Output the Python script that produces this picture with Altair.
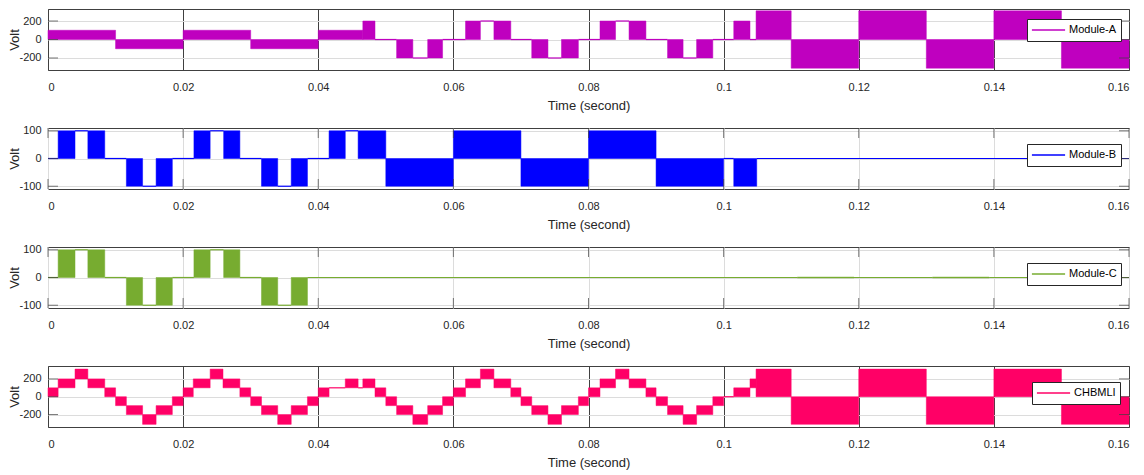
import altair as alt
import pandas as pd

# ---------------- data ----------------
X_TICKS = [0, 0.02, 0.04, 0.06, 0.08, 0.1, 0.12, 0.14, 0.16]

# Module-A: segment edges (s) and low/high envelope of the switched voltage in each segment
A_edges = [0, 0.01, 0.02, 0.03, 0.04, 0.0466, 0.0484, 0.0516, 0.054, 0.0562,
           0.0584, 0.0618, 0.064, 0.066, 0.0685, 0.0716, 0.074, 0.076, 0.0785, 0.0817,
           0.084, 0.086, 0.0885, 0.0917, 0.094, 0.096, 0.0984, 0.1015, 0.1039, 0.1048,
           0.11, 0.12, 0.13, 0.14, 0.15, 0.16]
A_lo = [0, -100, 0, -100, 0, 0, 0, -200, -200, -200,
        0, 0, 200, 0, 0, -200, -200, -200, 0, 0,
        200, 0, 0, -200, -200, -200, 0, 0, 0, 0,
        -310, 0, -310, 0, -310]
A_hi = [100, 0, 100, 0, 100, 200, 0, 0, -200, 0,
        0, 200, 200, 200, 0, 0, -200, 0, 0, 200,
        200, 200, 0, 0, -200, 0, 0, 200, 0, 310,
        0, 310, 0, 310, 0]

# Module-B
B_edges = [0, 0.0015, 0.004, 0.0059, 0.0084, 0.0116, 0.014, 0.016, 0.0184, 0.0216,
           0.024, 0.026, 0.0284, 0.0316, 0.034, 0.036, 0.0384, 0.0416, 0.044, 0.0459,
           0.05, 0.06, 0.07, 0.08, 0.09, 0.1, 0.1015, 0.1049, 0.16]
B_lo = [0, 0, 100, 0, 0, -100, -100, -100, 0, 0,
        100, 0, 0, -100, -100, -100, 0, 0, 100, 0,
        -100, 0, -100, 0, -100, 0, -100, 0]
B_hi = [0, 100, 100, 100, 0, 0, -100, 0, 0, 100,
        100, 100, 0, 0, -100, 0, 0, 100, 100, 100,
        0, 100, 0, 100, 0, 0, 0, 0]

# Module-C
C_edges = [0, 0.0015, 0.004, 0.0059, 0.0084, 0.0116, 0.014, 0.016, 0.0184, 0.0216,
           0.024, 0.026, 0.0284, 0.0316, 0.034, 0.036, 0.0384, 0.1109, 0.1193, 0.1309,
           0.1393, 0.16]
C_lo = [0, 0, 100, 0, 0, -100, -100, -100, 0, 0,
        100, 0, 0, -100, -100, -100, 0, -1.5, 0, -1.5, 0]
C_hi = [0, 100, 100, 100, 0, 0, -100, 0, 0, 100,
        100, 100, 0, 0, -100, 0, 0, 1.5, 0, 1.5, 0]

# CHBMLI output
D_edges = [0, 0.0015, 0.004, 0.0059, 0.0084, 0.01, 0.0116, 0.014, 0.016, 0.0184,
           0.02, 0.0215, 0.024, 0.0259, 0.0284, 0.03, 0.0316, 0.034, 0.036, 0.0384,
           0.04, 0.0416, 0.044, 0.0459, 0.0466, 0.0484, 0.05, 0.0516, 0.054, 0.0562,
           0.0584, 0.06, 0.0618, 0.064, 0.066, 0.0685, 0.07, 0.0716, 0.074, 0.076,
           0.0785, 0.08, 0.0817, 0.084, 0.086, 0.0885, 0.09, 0.0917, 0.094, 0.096,
           0.0984, 0.1, 0.1015, 0.1039, 0.1048, 0.11, 0.12, 0.13, 0.14, 0.15, 0.16]
D_lo = [0, 100, 200, 100, 0, -100, -200, -310, -200, -100,
        0, 100, 200, 100, 0, -100, -200, -310, -200, -100,
        0, 100, 100, 100, 100, 0, -100, -200, -310, -200, -100,
        0, 100, 200, 100, 0, -100, -200, -310, -200, -100,
        0, 100, 200, 100, 0, -100, -200, -310, -200, -100,
        0, 0, 100, 0, -310, 0, -310, 0, -310]
D_hi = [100, 200, 310, 200, 100, 0, -100, -200, -100, 0,
        100, 200, 310, 200, 100, 0, -100, -200, -100, 0,
        100, 100, 200, 100, 200, 100, 0, -100, -200, -100, 0,
        100, 200, 310, 200, 100, 0, -100, -200, -100, 0,
        100, 200, 310, 200, 100, 0, -100, -200, -100, 0,
        0, 100, 200, 310, 0, 310, 0, 310, 0]

# ---------------- styling ----------------
W, H = 1081, 61
FONT = "Liberation Sans"
DARK = "#404040"


def seg_frame(name, edges, lo, hi):
    rows = []
    for i in range(len(lo)):
        rows.append({"t0": edges[i], "t1": edges[i + 1], "lo": lo[i], "hi": hi[i], "series": name})
    return pd.DataFrame(rows)


def panel(name, edges, lo, hi, color, ydom, yticks, dark_xgrid, lx, ly):
    df = seg_frame(name, edges, lo, hi)
    xscale = alt.Scale(domain=[0, 0.16], nice=False, zero=False)
    yscale = alt.Scale(domain=ydom, nice=False, zero=False)
    xaxis = alt.Axis(values=X_TICKS, labelExpr="toString(datum.value)",
                     title="Time (second)", grid=True,
                     gridColor=DARK if dark_xgrid else "#dcdcdc",
                     labelPadding=11, titlePadding=7)
    yaxis = alt.Axis(values=yticks, labelExpr="toString(datum.value)",
                     title="Volt", grid=True, gridColor="#dcdcdc",
                     labelPadding=7, titlePadding=-3)
    base = alt.Chart(df)
    rects = base.transform_filter("datum.lo != datum.hi").mark_rect(
        color=color, stroke=color, strokeWidth=0.5
    ).encode(
        x=alt.X("t0:Q", scale=xscale, axis=xaxis, title="Time (second)"),
        x2="t1:Q",
        y=alt.Y("lo:Q", scale=yscale, axis=yaxis, title="Volt"),
        y2="hi:Q",
    )
    rules = base.transform_filter("datum.lo == datum.hi").mark_rule(
        strokeWidth=1.2
    ).encode(
        x=alt.X("t0:Q", scale=xscale, axis=xaxis, title="Time (second)"),
        x2="t1:Q",
        y=alt.Y("lo:Q", scale=yscale, axis=yaxis, title="Volt"),
        color=alt.Color("series:N", scale=alt.Scale(domain=[name], range=[color]),
                        legend=alt.Legend(title=None, orient="none", legendX=lx, legendY=ly,
                                          strokeColor="#262626", fillColor="white",
                                          padding=4, symbolType="stroke", symbolSize=1100,
                                          symbolStrokeWidth=1.3, clipHeight=14,
                                          labelFont=FONT, labelFontSize=11,
                                          labelColor="black", labelOffset=3)),
    )
    ydf = pd.DataFrame({"v": yticks})
    ytick_l = alt.Chart(ydf).mark_tick(color=DARK, size=10, thickness=1, orient="horizontal").encode(
        y=alt.Y("v:Q", scale=yscale, axis=yaxis, title="Volt"), x=alt.value(5))
    ytick_r = alt.Chart(ydf).mark_tick(color=DARK, size=10, thickness=1, orient="horizontal").encode(
        y=alt.Y("v:Q", scale=yscale, axis=yaxis, title="Volt"), x=alt.value(W - 5))
    layers = [rects, rules, ytick_l, ytick_r]
    if not dark_xgrid:
        xdf = pd.DataFrame({"v": X_TICKS})
        xt_top = alt.Chart(xdf).mark_tick(color=DARK, size=10, thickness=1, orient="vertical").encode(
            x=alt.X("v:Q", scale=xscale, axis=xaxis, title="Time (second)"), y=alt.value(5))
        xt_bot = alt.Chart(xdf).mark_tick(color=DARK, size=10, thickness=1, orient="vertical").encode(
            x=alt.X("v:Q", scale=xscale, axis=xaxis, title="Time (second)"), y=alt.value(H - 5))
        layers += [xt_top, xt_bot]
    return alt.layer(*layers).properties(width=W, height=H)


pA = panel("Module-A", A_edges, A_lo, A_hi, "#bf00bf", [-330, 330], [-200, 0, 200], True, 979, 10)
pB = panel("Module-B", B_edges, B_lo, B_hi, "#0000ff", [-110, 110], [-100, 0, 100], False, 979, 16)
pC = panel("Module-C", C_edges, C_lo, C_hi, "#77ac30", [-110, 110], [-100, 0, 100], False, 979, 16)
pD = panel("CHBMLI", D_edges, D_lo, D_hi, "#ff0066", [-340, 345], [-200, 0, 200], True, 984, 16)

chart = alt.vconcat(pA, pB, pC, pD, spacing=58, bounds="flush").resolve_scale(
    color="independent"
).properties(
    padding={"left": 0, "top": 0, "right": 0, "bottom": 0}
).configure_view(
    stroke=DARK, strokeWidth=1
).configure_axis(
    labelFont=FONT, labelFontSize=11, labelColor="#262626",
    titleFont=FONT, titleFontSize=13, titleFontWeight="normal", titleColor="#262626",
    domain=False, ticks=False, tickSize=0, gridWidth=1, gridOpacity=1
)

chart.save("out.html", embed_options={"renderer": "svg", "actions": False})
